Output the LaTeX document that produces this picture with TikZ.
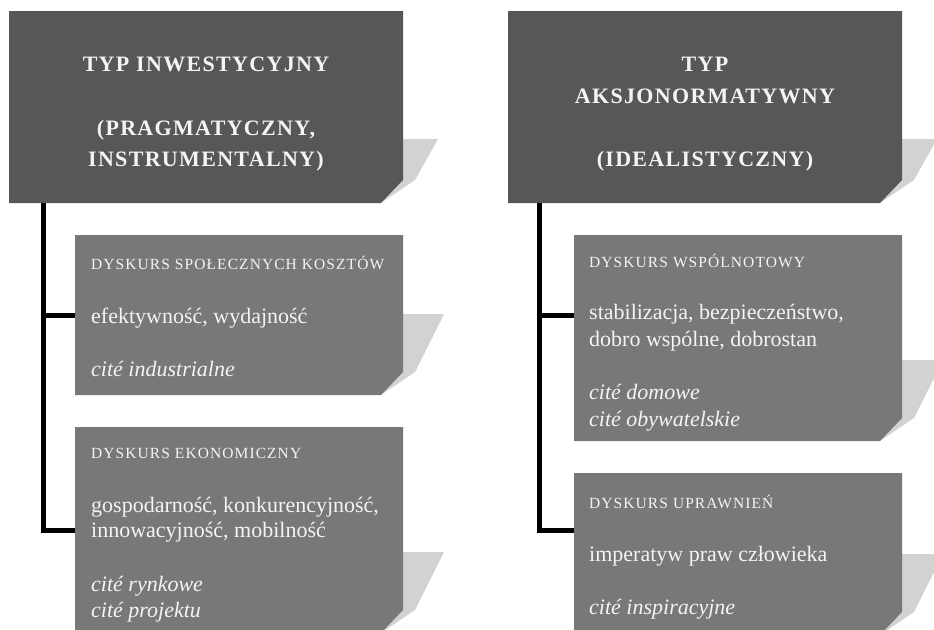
\documentclass[tikz,border=0pt]{standalone}
\usepackage{fontspec}
\setmainfont{Liberation Serif}
\definecolor{bigbox}{HTML}{575756}
\definecolor{subbox}{HTML}{787878}
\definecolor{shadowgray}{HTML}{D1D2D1}
\definecolor{txt}{HTML}{F4F4F4}
% #1 name, #2 x1, #3 y1, #4 x2, #5 y2, #6 shadow height, #7 shadow width, #8 colour
\newcommand\PaperBox[8]{%
  \fill[shadowgray] (#4,#5-#6) -- (#4+#7,#5-#6) -- (#4+12,#5-23) -- (#4-22,#5) -- cycle;
  \fill[#8] (#2,#3) -- (#4,#3) -- (#4,#5-23) -- (#4-22,#5) -- (#2,#5) -- cycle;
  \node[boxnode, minimum width={(#4-#2)*1pt}, minimum height={(#5-#3)*1pt}, anchor=north west] (#1) at (#2,#3) {};
}
\begin{document}
\begin{tikzpicture}[x=1pt,y=-1pt,
  boxnode/.style={rectangle, inner sep=0pt, outer sep=0pt, draw=none},
  conn/.style={line width=5pt, black},
  ttl/.style={anchor=base, inner sep=0pt, text=txt, font=\fontsize{22}{26}\selectfont\bfseries\addfontfeature{LetterSpace=6}},
  hdr/.style={anchor=base west, inner sep=0pt, text=txt, font=\fontsize{15.5}{18}\selectfont\addfontfeature{LetterSpace=7}},
  body/.style={anchor=base west, inner sep=0pt, text=txt, font=\fontsize{22}{25}\selectfont},
  cite/.style={anchor=base west, inner sep=0pt, text=txt, font=\fontsize{22}{25}\selectfont\itshape}]
\useasboundingbox (0,0) rectangle (934,629);
\clip (0,0) rectangle (934,629);
\fill[white] (0,0) rectangle (934,629);

% boxes
\PaperBox{bigL}{9}{11}{403}{203}{64}{35}{bigbox}
\PaperBox{bigR}{508}{11}{902}{203}{64}{35}{bigbox}
\PaperBox{sL1}{75}{235}{403}{395}{81}{41}{subbox}
\PaperBox{sL2}{75}{427}{403}{633}{81}{41}{subbox}
\PaperBox{sR1}{574}{235}{902}{441}{81}{41}{subbox}
\PaperBox{sR2}{574}{473}{902}{635}{81}{41}{subbox}

% connectors
\coordinate (trunkL) at ([xshift=34pt]bigL.south west);
\coordinate (trunkR) at ([xshift=31pt]bigR.south west);
\draw[conn] (trunkL) |- (sL2.west);
\draw[conn] (sL1.west) -- (sL1.west -| trunkL);
\draw[conn] (trunkR) |- (sR2.west |- 0,530);
\draw[conn] (sR1.west |- 0,315) -- (trunkR |- 0,315);

% titles
\node[ttl] (tL1) at (206,71) {TYP INWESTYCYJNY};
\node[ttl] (tL2) at (206,135) {(PRAGMATYCZNY,};
\node[ttl] (tL3) at (206,166) {INSTRUMENTALNY)};
\node[ttl] (tR1) at (705,71) {TYP};
\node[ttl] (tR2) at (705,103) {AKSJONORMATYWNY};
\node[ttl] (tR3) at (705,166) {(IDEALISTYCZNY)};

% left sub box 1
\node[hdr] (a1) at (91,269) {DYSKURS SPOŁECZNYCH KOSZTÓW};
\node[body] (a2) at (91,323) {efektywność, wydajność};
\node[cite] (a3) at (91,376) {cité industrialne};
% left sub box 2
\node[hdr] (b1) at (91,458) {DYSKURS EKONOMICZNY};
\node[body] (b2) at (91,512) {gospodarność, konkurencyjność,};
\node[body] (b3) at (91,537) {innowacyjność, mobilność};
\node[cite] (b4) at (91,591) {cité rynkowe};
\node[cite] (b5) at (91,617) {cité projektu};
% right sub box 1
\node[hdr] (c1) at (589,267) {DYSKURS WSPÓLNOTOWY};
\node[body] (c2) at (589,319) {stabilizacja, bezpieczeństwo,};
\node[body] (c3) at (589,346) {dobro wspólne, dobrostan};
\node[cite] (c4) at (589,399) {cité domowe};
\node[cite] (c5) at (589,426) {cité obywatelskie};
% right sub box 2
\node[hdr] (d1) at (589,508) {DYSKURS UPRAWNIEŃ};
\node[body] (d2) at (589,561) {imperatyw praw człowieka};
\node[cite] (d3) at (589,614) {cité inspiracyjne};
\end{tikzpicture}
\end{document}
